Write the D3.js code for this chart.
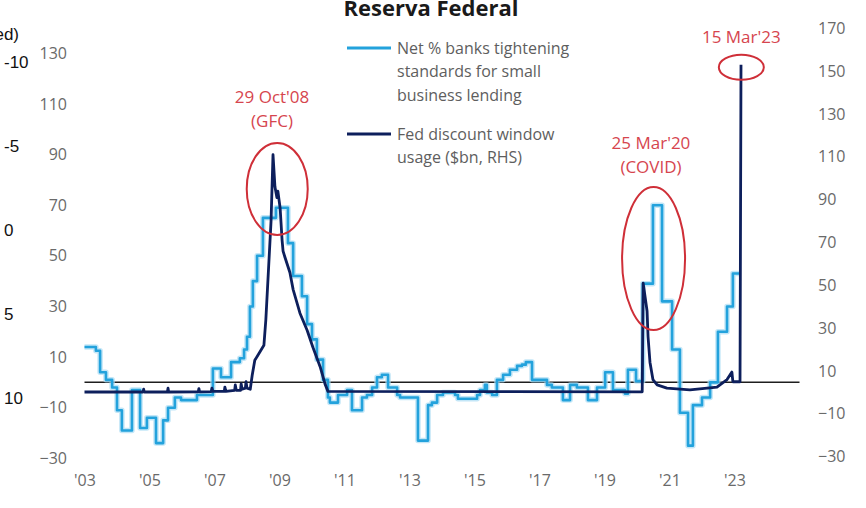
<!DOCTYPE html>
<html>
<head>
<meta charset="utf-8">
<script src="https://cdn.jsdelivr.net/npm/d3@7"></script>
<style>
  html, body { margin: 0; padding: 0; background: #fff; }
  svg { display: block; }
</style>
</head>
<body>
<svg id="chart" width="866" height="508"></svg>
<script>
// Net % of banks tightening standards for small business lending (LHS), [decimal year, %]
const lendingSeries = [
  [2003.00, 14], [2003.35, 12.5], [2003.48, 4], [2003.66, 1], [2003.85, -2],
  [2004.00, -11], [2004.15, -19], [2004.46, -3], [2004.71, -18], [2004.92, -14],
  [2005.20, -24], [2005.42, -15], [2005.57, -10], [2005.78, -6], [2005.97, -7],
  [2006.46, -5], [2006.95, 5.5], [2007.20, 2], [2007.51, 8], [2007.78, 9.5],
  [2007.91, 13], [2008.00, 18], [2008.09, 30], [2008.18, 40], [2008.31, 50],
  [2008.49, 65], [2008.89, 69], [2009.26, 55], [2009.42, 42], [2009.69, 34],
  [2009.85, 23], [2010.00, 17], [2010.15, 9], [2010.34, 1], [2010.49, -6],
  [2010.55, -8], [2010.80, -5], [2011.08, -3], [2011.23, -11], [2011.54, -6],
  [2011.69, -5], [2011.85, -2], [2012.00, 2], [2012.15, 3], [2012.34, -2],
  [2012.62, -5], [2012.71, -6], [2013.26, -23], [2013.57, -9], [2013.69, -8],
  [2013.85, -5], [2014.03, -4], [2014.40, -5], [2014.49, -6.5], [2015.08, -5],
  [2015.17, -3], [2015.32, -1], [2015.38, -4], [2015.54, -5], [2015.69, 1],
  [2015.88, 3], [2016.09, 5], [2016.31, 6.5], [2016.46, 7], [2016.58, 8],
  [2016.77, 1], [2017.23, -1], [2017.38, -2], [2017.72, -7], [2017.94, -1],
  [2018.15, -2], [2018.49, -7], [2018.77, -2], [2019.02, 4], [2019.26, -3],
  [2019.63, -4.5], [2019.72, 5], [2019.97, 0.5], [2020.18, 39], [2020.49, 70],
  [2020.77, 32], [2021.08, 13], [2021.32, -12], [2021.57, -25], [2021.72, -9],
  [2022.00, -6], [2022.25, 0], [2022.49, 20], [2022.77, 30], [2022.95, 43],
  [2023.20, 43]
];

// Fed discount window usage, $bn (RHS), [decimal year, $bn]
const discountSeries = [
  [2003.00, 0.2], [2004.80, 0.2], [2004.82, 1.5], [2004.84, 0.2], [2005.55, 0.2],
  [2005.57, 2], [2005.59, 0.2], [2006.50, 0.3], [2006.52, 1.8], [2006.54, 0.3],
  [2006.90, 0.4], [2006.92, 2], [2006.95, 0.5], [2007.30, 0.5], [2007.32, 2.5],
  [2007.35, 0.5], [2007.62, 1], [2007.64, 3.5], [2007.67, 1], [2007.80, 1],
  [2007.82, 4], [2007.85, 1.5], [2007.95, 2], [2007.97, 5], [2008.00, 2],
  [2008.10, 1.5], [2008.16, 8], [2008.24, 15], [2008.40, 19], [2008.52, 22],
  [2008.58, 34], [2008.74, 80], [2008.80, 111], [2008.86, 96], [2008.92, 91],
  [2008.95, 94], [2009.02, 86], [2009.08, 71], [2009.11, 66], [2009.17, 63],
  [2009.32, 56], [2009.42, 48], [2009.63, 37], [2009.85, 29], [2010.03, 21],
  [2010.25, 12], [2010.40, 4], [2010.49, 0.5], [2020.16, 0.3], [2020.19, 51],
  [2020.31, 38], [2020.34, 26], [2020.40, 14], [2020.49, 6], [2020.62, 3.5],
  [2020.92, 2], [2021.63, 1.2], [2022.46, 2.5], [2022.77, 6], [2022.92, 9.5],
  [2022.95, 5], [2023.17, 5], [2023.20, 153]
];

const yearTicks = [2003, 2005, 2007, 2009, 2011, 2013, 2015, 2017, 2019, 2021, 2023];
const leftTicks = [-30, -10, 10, 30, 50, 70, 90, 110, 130];
const rightTicks = [-30, -10, 10, 30, 50, 70, 90, 110, 130, 150, 170];
const sideTicks = [-10, -5, 0, 5, 10];

const legendItems = [
  { key: "lending", lines: ["Net % banks tightening", "standards for small", "business lending"] },
  { key: "discount", lines: ["Fed discount window", "usage ($bn, RHS)"] }
];

// Highlighted episodes: date, peak and caption
const events = [
  { date: 2008.83, peak: 111, label: ["29 Oct'08", "(GFC)"] },
  { date: 2020.23, peak: 51, label: ["25 Mar'20", "(COVID)"] },
  { date: 2023.20, peak: 153, label: ["15 Mar'23"] }
];

const COLORS = {
  lending: "#23a2dc",
  lendingHalo: "#a9dbf3",
  discount: "#0d1f5c",
  zero: "#1e1e1e",
  tick: "#6a6a6a",
  legend: "#5e5e5e",
  red: "#d6454e"
};

const svg = d3.select("#chart");
const FONT = "'Open Sans', 'Noto Sans', sans-serif";

const x = d3.scaleLinear().domain([2003, 2025]).range([84.5, 799.5]);
const yL = d3.scaleLinear().domain([-30, 130]).range([458.3, 53.3]);
const yR = d3.scaleLinear().domain([-30, 170]).range([456.7, 28.3]);

// Title (partly above the visible frame)
svg.append("text")
  .attr("x", 431).attr("y", 16)
  .attr("text-anchor", "middle")
  .attr("font-family", "'Open Sans', sans-serif")
  .attr("font-weight", 700)
  .attr("font-size", 22)
  .attr("fill", "#1a1a1a")
  .text("Reserva Federal");

// Neighbouring axis on the far left
const ySide = d3.scaleLinear().domain([-10, 10]).range([62, 398]);
const side = svg.append("g").attr("font-family", "'Liberation Sans', Arial, sans-serif")
  .attr("font-size", 17).attr("fill", "#111");
side.append("text").attr("x", 19).attr("y", ySide(-10) - 28).attr("dy", "0.35em")
  .attr("text-anchor", "end").text("ed)");
side.selectAll("text.tk").data(sideTicks).join("text")
  .attr("class", "tk")
  .attr("x", 4).attr("y", d => ySide(d)).attr("dy", "0.35em")
  .text(d => d);

// Axes
function styleAxis(g) {
  g.select(".domain").remove();
  g.selectAll(".tick line").remove();
  g.selectAll(".tick text")
    .attr("fill", COLORS.tick)
    .attr("font-family", FONT)
    .attr("font-size", 16);
}

svg.append("g")
  .attr("transform", "translate(67,0)")
  .call(d3.axisLeft(yL).tickValues(leftTicks).tickSize(0).tickPadding(0))
  .call(styleAxis);

svg.append("g")
  .attr("transform", "translate(818,0)")
  .call(d3.axisRight(yR).tickValues(rightTicks).tickSize(0).tickPadding(0))
  .call(styleAxis);

svg.append("g")
  .attr("transform", "translate(0,472)")
  .call(d3.axisBottom(x).tickValues(yearTicks).tickSize(0).tickPadding(3)
    .tickFormat(d => "'" + String(d).slice(2)))
  .call(styleAxis);

// Zero line (LHS)
svg.append("line")
  .attr("x1", x(2003)).attr("x2", x(2025))
  .attr("y1", yL(0)).attr("y2", yL(0))
  .attr("stroke", COLORS.zero).attr("stroke-width", 1.5);

// Lending standards: quarterly steps
const lendingLine = d3.line()
  .curve(d3.curveStepAfter)
  .x(d => x(d[0])).y(d => yL(d[1]));

svg.append("path").datum(lendingSeries)
  .attr("d", lendingLine)
  .attr("fill", "none")
  .attr("stroke", COLORS.lendingHalo)
  .attr("stroke-width", 5.5)
  .attr("stroke-opacity", 0.7)
  .attr("stroke-linejoin", "round");

svg.append("path").datum(lendingSeries)
  .attr("d", lendingLine)
  .attr("fill", "none")
  .attr("stroke", COLORS.lending)
  .attr("stroke-width", 2.6)
  .attr("stroke-linejoin", "round");

// Discount window usage
const discountLine = d3.line()
  .x(d => x(d[0])).y(d => yR(d[1]));

svg.append("path").datum(discountSeries)
  .attr("d", discountLine)
  .attr("fill", "none")
  .attr("stroke", COLORS.discount)
  .attr("stroke-width", 2.8)
  .attr("stroke-linejoin", "round");

// Legend
const legend = svg.append("g").attr("font-family", FONT).attr("font-size", 16).attr("fill", COLORS.legend);
const legendTop = [48, 134];
legendItems.forEach((item, i) => {
  const y0 = legendTop[i];
  legend.append("line")
    .attr("x1", 347).attr("x2", 391).attr("y1", y0).attr("y2", y0)
    .attr("stroke", item.key === "lending" ? COLORS.lending : COLORS.discount)
    .attr("stroke-width", 3);
  item.lines.forEach((t, j) => {
    legend.append("text")
      .attr("x", 397).attr("y", y0 + j * 23.5).attr("dy", "0.35em")
      .text(t);
  });
});

// Episode annotations
const ann = svg.append("g").attr("font-family", FONT).attr("font-size", 17).attr("fill", COLORS.red);
const ringSpecs = [
  { dx: 0.10, dy: -16, rx: 30.5, ry: 46, tx: -0.06, ty: 97 },
  { dx: 0.28, dy: 11.5, rx: 31.5, ry: 71.5, tx: 0.20, ty: 143 },
  { dx: 0.01, dy: -1.2, rx: 22.5, ry: 12.5, tx: 0.01, ty: 37 }
];
events.forEach((e, i) => {
  const r = ringSpecs[i];
  svg.append("ellipse")
    .attr("cx", x(e.date + r.dx)).attr("cy", yR(e.peak + r.dy))
    .attr("rx", r.rx).attr("ry", r.ry)
    .attr("fill", "none").attr("stroke", "#cf2f38").attr("stroke-width", 2);
  e.label.forEach((t, j) => {
    ann.append("text")
      .attr("x", x(e.date + r.tx)).attr("y", r.ty + j * 24).attr("dy", "0.35em")
      .attr("text-anchor", "middle")
      .text(t);
  });
});
</script>
</body>
</html>
